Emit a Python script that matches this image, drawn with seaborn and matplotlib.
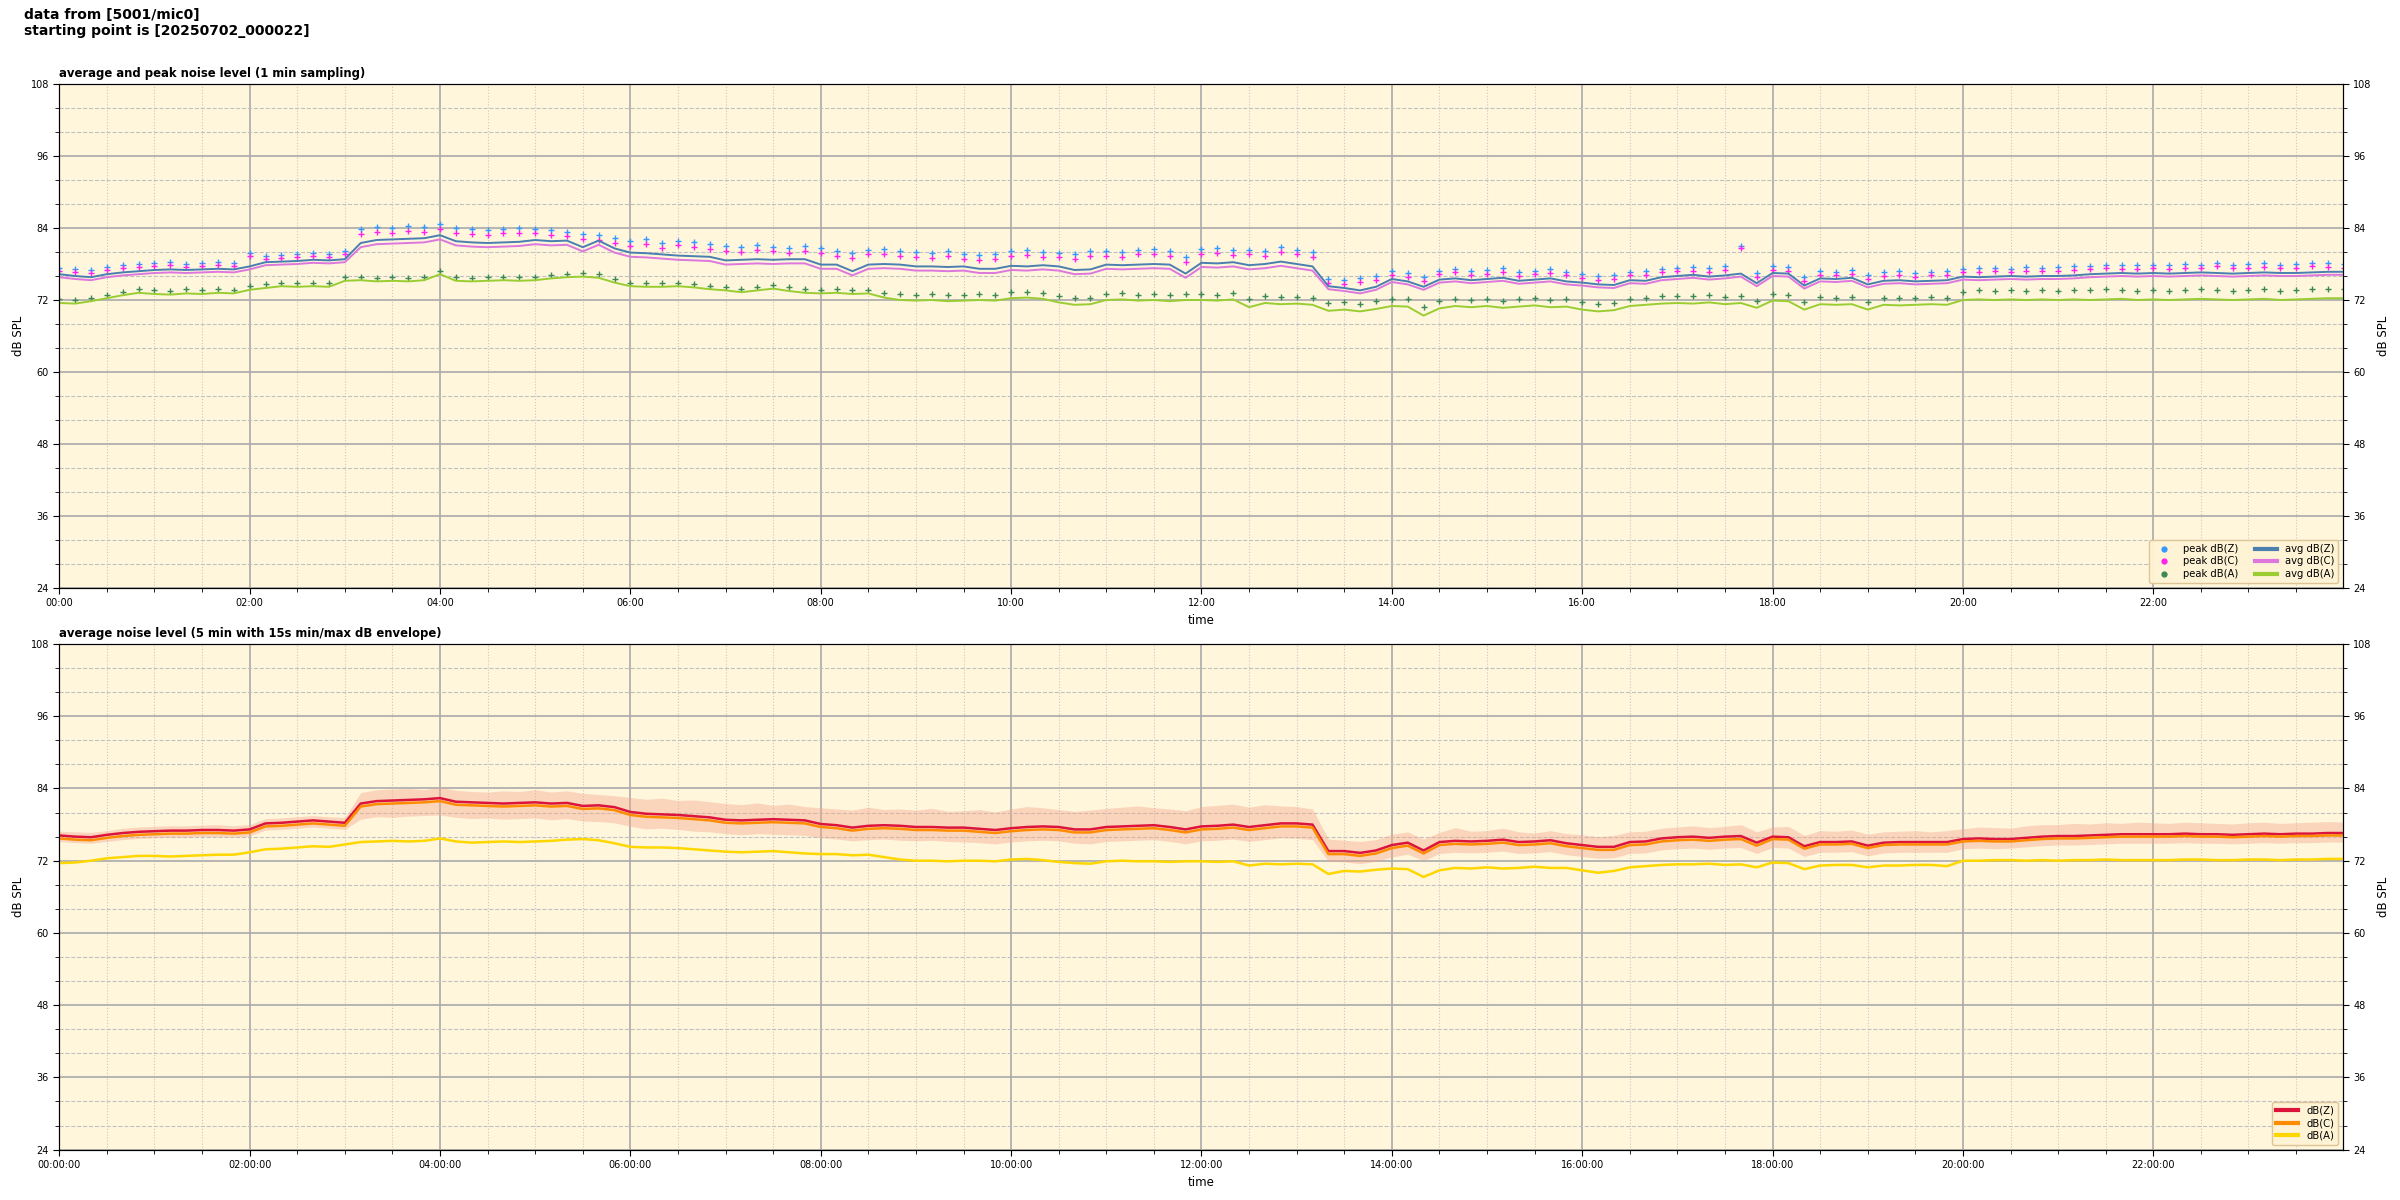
import pandas as pd
import matplotlib.pyplot as plt
import matplotlib.dates as mdates
from matplotlib.lines import Line2D
import seaborn as sns

# ----------------------------
# DATA (10 min steps)
# ----------------------------
start = "2025-07-02 00:00:00"
step_min = 10

# top panel: 1 min averages / peaks
avg_z = [76.3, 76.0, 75.8, 76.3, 76.6, 76.8,
         77.0, 77.1, 77.0, 77.1, 77.2, 77.1,
         77.6, 78.3, 78.4, 78.5, 78.7, 78.6,
         78.8, 81.5, 82.0, 82.1, 82.2, 82.3,
         82.8, 81.8, 81.6, 81.5, 81.6, 81.7,
         82.0, 81.8, 81.9, 80.8, 81.9, 80.6,
         79.9, 79.8, 79.6, 79.4, 79.3, 79.2,
         78.6, 78.7, 78.8, 78.7, 78.8, 78.8,
         77.9, 77.9, 76.8, 77.9, 78.0, 77.9,
         77.6, 77.6, 77.5, 77.6, 77.2, 77.2,
         77.7, 77.6, 77.8, 77.6, 77.0, 77.1,
         77.9, 77.8, 77.9, 78.0, 77.9, 76.4,
         78.2, 78.1, 78.3, 77.8, 78.0, 78.4,
         78.0, 77.6, 74.3, 74.0, 73.6, 74.2,
         75.5, 75.1, 74.2, 75.4, 75.6, 75.3,
         75.5, 75.7, 75.2, 75.4, 75.6, 75.1,
         74.9, 74.6, 74.5, 75.3, 75.2, 75.8,
         76.0, 76.2, 75.9, 76.1, 76.4, 74.8,
         76.5, 76.4, 74.4, 75.6, 75.5, 75.7,
         74.6, 75.2, 75.3, 75.1, 75.2, 75.3,
         75.9, 75.8, 75.9, 76.0, 75.9, 76.0,
         76.0, 76.1, 76.3, 76.4, 76.5, 76.4,
         76.5, 76.4, 76.5, 76.6, 76.5, 76.4,
         76.5, 76.6, 76.5, 76.5, 76.6, 76.7,
         76.7]

avg_c = [75.8, 75.5, 75.3, 75.8, 76.1, 76.3,
         76.5, 76.6, 76.5, 76.6, 76.7, 76.6,
         77.1, 77.8, 77.9, 78.0, 78.2, 78.1,
         78.3, 80.8, 81.3, 81.4, 81.5, 81.6,
         82.1, 81.1, 80.9, 80.8, 80.9, 81.0,
         81.3, 81.1, 81.2, 80.1, 81.2, 79.9,
         79.2, 79.1, 78.9, 78.7, 78.6, 78.5,
         77.9, 78.0, 78.1, 78.0, 78.1, 78.1,
         77.2, 77.2, 76.1, 77.2, 77.3, 77.2,
         76.9, 76.9, 76.8, 76.9, 76.5, 76.5,
         77.0, 76.9, 77.1, 76.9, 76.3, 76.4,
         77.2, 77.1, 77.2, 77.3, 77.2, 75.7,
         77.5, 77.4, 77.6, 77.1, 77.3, 77.7,
         77.3, 76.9, 73.8, 73.5, 73.1, 73.7,
         75.0, 74.6, 73.7, 74.9, 75.1, 74.8,
         75.0, 75.2, 74.7, 74.9, 75.1, 74.6,
         74.4, 74.1, 74.0, 74.8, 74.7, 75.3,
         75.5, 75.7, 75.4, 75.6, 75.9, 74.3,
         76.0, 75.9, 73.9, 75.1, 75.0, 75.2,
         74.1, 74.7, 74.8, 74.6, 74.7, 74.8,
         75.4, 75.3, 75.4, 75.5, 75.4, 75.5,
         75.5, 75.6, 75.8, 75.9, 76.0, 75.9,
         76.0, 75.9, 76.0, 76.1, 76.0, 75.9,
         76.0, 76.1, 76.0, 76.0, 76.1, 76.2,
         76.2]

avg_a = [71.5, 71.4, 71.8, 72.3, 72.8, 73.2,
         73.0, 72.9, 73.1, 73.0, 73.2, 73.1,
         73.7, 74.0, 74.3, 74.2, 74.3, 74.2,
         75.2, 75.3, 75.1, 75.2, 75.1, 75.3,
         76.3, 75.2, 75.1, 75.2, 75.3, 75.2,
         75.3, 75.6, 75.8, 75.9, 75.7, 74.9,
         74.3, 74.2, 74.2, 74.3, 74.1, 73.8,
         73.6, 73.3, 73.6, 73.9, 73.5, 73.2,
         73.1, 73.2, 73.0, 73.1, 72.4, 72.0,
         71.9, 72.0, 71.8, 71.9, 72.0, 71.9,
         72.3, 72.4, 72.2, 71.6, 71.2, 71.3,
         72.0, 72.1, 71.9, 72.0, 71.8, 72.0,
         72.0, 71.9, 72.1, 70.8, 71.5, 71.3,
         71.4, 71.2, 70.2, 70.4, 70.1, 70.5,
         71.0, 70.9, 69.4, 70.6, 71.0, 70.8,
         71.0, 70.7, 70.9, 71.1, 70.8, 70.9,
         70.4, 70.1, 70.3, 71.0, 71.2, 71.4,
         71.5, 71.4, 71.6, 71.3, 71.5, 70.7,
         71.9, 71.8, 70.4, 71.3, 71.2, 71.3,
         70.4, 71.2, 71.1, 71.2, 71.3, 71.2,
         72.0, 72.1, 72.0, 72.1, 72.0, 72.1,
         72.0, 72.1, 72.0, 72.1, 72.2, 72.0,
         72.1, 72.0, 72.1, 72.2, 72.1, 72.0,
         72.1, 72.2, 72.0, 72.1, 72.2, 72.3,
         72.3]

peak_z = [77.4, 77.2, 77.0, 77.5, 77.8, 78.0,
          78.1, 78.3, 78.0, 78.2, 78.4, 78.2,
          79.9, 79.3, 79.5, 79.7, 79.8, 79.6,
          80.1, 83.8, 84.1, 84.0, 84.3, 84.2,
          84.6, 84.0, 83.8, 83.6, 83.9, 84.0,
          83.9, 83.7, 83.4, 83.0, 82.8, 82.3,
          81.8, 82.2, 81.5, 81.9, 81.6, 81.3,
          81.0, 80.8, 81.2, 80.9, 80.7, 81.0,
          80.6, 80.2, 79.8, 80.4, 80.5, 80.1,
          80.0, 79.8, 80.1, 79.7, 79.5, 79.6,
          80.1, 80.3, 80.0, 79.9, 79.6, 80.2,
          80.2, 80.0, 80.4, 80.5, 80.1, 79.2,
          80.5, 80.7, 80.3, 80.4, 80.2, 80.8,
          80.4, 80.0, 75.5, 75.3, 75.6, 76.0,
          76.8, 76.5, 75.8, 76.9, 77.2, 76.8,
          77.0, 77.3, 76.6, 76.9, 77.1, 76.7,
          76.3, 76.0, 76.1, 76.7, 76.8, 77.2,
          77.4, 77.5, 77.3, 77.6, 81.0, 76.5,
          77.6, 77.5, 75.8, 76.8, 76.7, 77.0,
          76.1, 76.6, 76.8, 76.5, 76.7, 76.8,
          77.2, 77.3, 77.4, 77.2, 77.5, 77.4,
          77.5, 77.6, 77.7, 77.9, 77.8, 77.8,
          77.9, 77.8, 78.0, 77.9, 78.2, 77.9,
          78.0, 78.1, 77.9, 78.0, 78.2, 78.1,
          78.0]

peak_c = [76.9, 76.7, 76.5, 77.0, 77.3, 77.5,
          77.6, 77.8, 77.5, 77.7, 77.9, 77.7,
          79.4, 78.8, 79.0, 79.2, 79.3, 79.1,
          79.6, 83.0, 83.3, 83.2, 83.5, 83.4,
          83.8, 83.2, 83.0, 82.8, 83.1, 83.2,
          83.1, 82.9, 82.6, 82.2, 82.0, 81.5,
          81.0, 81.4, 80.7, 81.1, 80.8, 80.5,
          80.2, 80.0, 80.4, 80.1, 79.9, 80.2,
          79.8, 79.4, 79.0, 79.6, 79.7, 79.3,
          79.2, 79.0, 79.3, 78.9, 78.7, 78.8,
          79.3, 79.5, 79.2, 79.1, 78.8, 79.4,
          79.4, 79.2, 79.6, 79.7, 79.3, 78.4,
          79.7, 79.9, 79.5, 79.6, 79.4, 80.0,
          79.6, 79.2, 74.9, 74.7, 75.0, 75.4,
          76.2, 75.9, 75.2, 76.3, 76.6, 76.2,
          76.4, 76.7, 76.0, 76.3, 76.5, 76.1,
          75.7, 75.4, 75.5, 76.1, 76.2, 76.6,
          76.8, 76.9, 76.7, 77.0, 80.6, 75.9,
          77.0, 76.9, 75.2, 76.2, 76.1, 76.4,
          75.5, 76.0, 76.2, 75.9, 76.1, 76.2,
          76.6, 76.7, 76.8, 76.6, 76.9, 76.8,
          76.9, 77.0, 77.1, 77.3, 77.2, 77.2,
          77.3, 77.2, 77.4, 77.3, 77.6, 77.3,
          77.4, 77.5, 77.3, 77.4, 77.6, 77.5,
          77.4]

peak_a = [72.2, 72.0, 72.4, 72.9, 73.4, 73.8,
          73.6, 73.5, 73.8, 73.6, 73.9, 73.7,
          74.3, 74.6, 74.9, 74.8, 74.9, 74.8,
          75.8, 75.9, 75.7, 75.8, 75.7, 75.9,
          76.9, 75.8, 75.7, 75.8, 75.9, 75.8,
          75.9, 76.2, 76.4, 76.5, 76.3, 75.5,
          74.9, 74.8, 74.8, 74.9, 74.7, 74.4,
          74.2, 73.9, 74.2, 74.5, 74.1, 73.8,
          73.7, 73.8, 73.6, 73.7, 73.2, 73.0,
          72.9, 73.0, 72.8, 72.9, 73.0, 72.9,
          73.3, 73.4, 73.2, 72.6, 72.3, 72.4,
          73.0, 73.1, 72.9, 73.0, 72.8, 73.0,
          73.0, 72.9, 73.1, 72.2, 72.7, 72.5,
          72.5, 72.3, 71.5, 71.7, 71.4, 71.8,
          72.2, 72.1, 70.8, 71.8, 72.2, 72.0,
          72.2, 71.9, 72.1, 72.3, 72.0, 72.1,
          71.6, 71.3, 71.5, 72.2, 72.4, 72.6,
          72.7, 72.6, 72.8, 72.5, 72.7, 71.9,
          73.0, 72.9, 71.6, 72.5, 72.4, 72.5,
          71.6, 72.4, 72.3, 72.4, 72.5, 72.4,
          73.4, 73.6, 73.5, 73.7, 73.5, 73.6,
          73.5, 73.7, 73.6, 73.8, 73.7, 73.5,
          73.6, 73.5, 73.7, 73.8, 73.6, 73.5,
          73.6, 73.8, 73.5, 73.6, 73.8, 73.9,
          73.8]

# bottom panel: 5 min levels and 15 s min/max envelope
lvl_z = [76.2, 76.0, 75.9, 76.3, 76.6, 76.8,
         76.9, 77.0, 77.0, 77.1, 77.1, 77.0,
         77.2, 78.2, 78.3, 78.5, 78.7, 78.5,
         78.3, 81.5, 81.9, 82.0, 82.1, 82.2,
         82.4, 81.8, 81.7, 81.6, 81.5, 81.6,
         81.7, 81.5, 81.6, 81.1, 81.2, 80.9,
         80.1, 79.8, 79.7, 79.6, 79.4, 79.2,
         78.8, 78.7, 78.8, 78.9, 78.8, 78.7,
         78.1, 77.9, 77.5, 77.8, 77.9, 77.8,
         77.6, 77.6, 77.5, 77.5, 77.3, 77.1,
         77.4, 77.6, 77.7, 77.6, 77.2, 77.2,
         77.6, 77.7, 77.8, 77.9, 77.6, 77.2,
         77.7, 77.8, 78.0, 77.6, 77.9, 78.2,
         78.2, 78.0, 73.6, 73.6, 73.3, 73.7,
         74.6, 75.0, 73.7, 75.1, 75.3, 75.2,
         75.3, 75.5, 75.1, 75.2, 75.4, 74.9,
         74.6, 74.3, 74.3, 75.1, 75.2, 75.7,
         75.9, 76.0, 75.8, 76.0, 76.1, 75.0,
         76.0, 75.9, 74.4, 75.1, 75.1, 75.2,
         74.5, 75.0, 75.1, 75.1, 75.1, 75.1,
         75.6, 75.7, 75.6, 75.6, 75.8, 76.0,
         76.1, 76.1, 76.2, 76.3, 76.4, 76.4,
         76.4, 76.4, 76.5, 76.4, 76.4, 76.3,
         76.4, 76.5, 76.4, 76.5, 76.5, 76.6,
         76.6]

lvl_c = [75.7, 75.5, 75.4, 75.8, 76.1, 76.3,
         76.4, 76.5, 76.5, 76.6, 76.6, 76.5,
         76.7, 77.7, 77.8, 78.0, 78.2, 78.0,
         77.8, 81.0, 81.4, 81.5, 81.6, 81.7,
         81.9, 81.3, 81.2, 81.1, 81.0, 81.1,
         81.2, 81.0, 81.1, 80.6, 80.7, 80.4,
         79.6, 79.3, 79.2, 79.1, 78.9, 78.7,
         78.3, 78.2, 78.3, 78.4, 78.3, 78.2,
         77.6, 77.4, 77.0, 77.3, 77.4, 77.3,
         77.1, 77.1, 77.0, 77.0, 76.8, 76.6,
         76.9, 77.1, 77.2, 77.1, 76.7, 76.7,
         77.1, 77.2, 77.3, 77.4, 77.1, 76.7,
         77.2, 77.3, 77.5, 77.1, 77.4, 77.7,
         77.7, 77.5, 73.1, 73.1, 72.8, 73.2,
         74.1, 74.5, 73.2, 74.6, 74.8, 74.7,
         74.8, 75.0, 74.6, 74.7, 74.9, 74.4,
         74.1, 73.8, 73.8, 74.6, 74.7, 75.2,
         75.4, 75.5, 75.3, 75.5, 75.6, 74.5,
         75.6, 75.5, 74.0, 74.7, 74.7, 74.8,
         74.1, 74.6, 74.7, 74.7, 74.7, 74.7,
         75.2, 75.3, 75.2, 75.2, 75.4, 75.6,
         75.7, 75.7, 75.8, 75.9, 76.0, 76.0,
         76.0, 76.0, 76.1, 76.0, 76.0, 75.9,
         76.0, 76.1, 76.0, 76.1, 76.1, 76.2,
         76.2]

lvl_a = [71.6, 71.7, 72.0, 72.4, 72.6, 72.8,
         72.8, 72.7, 72.8, 72.9, 73.0, 73.0,
         73.4, 73.9, 74.0, 74.2, 74.4, 74.3,
         74.7, 75.1, 75.2, 75.3, 75.2, 75.3,
         75.7, 75.2, 75.0, 75.1, 75.2, 75.1,
         75.2, 75.3, 75.5, 75.6, 75.4, 74.9,
         74.3, 74.2, 74.2, 74.1, 73.9, 73.7,
         73.5, 73.4, 73.5, 73.6, 73.4, 73.2,
         73.1, 73.1, 72.9, 73.0, 72.6, 72.2,
         72.0, 72.0, 71.9, 72.0, 72.0, 71.9,
         72.2, 72.3, 72.1, 71.8, 71.6, 71.5,
         71.9, 72.0, 71.9, 71.9, 71.8, 71.9,
         71.9, 71.8, 71.9, 71.2, 71.5, 71.4,
         71.5, 71.4, 69.8, 70.3, 70.2, 70.5,
         70.7, 70.6, 69.3, 70.4, 70.8, 70.7,
         70.9, 70.7, 70.8, 71.0, 70.8, 70.8,
         70.4, 70.0, 70.3, 70.9, 71.1, 71.3,
         71.4, 71.4, 71.5, 71.3, 71.4, 70.9,
         71.7, 71.6, 70.6, 71.2, 71.3, 71.3,
         70.9, 71.2, 71.2, 71.3, 71.3, 71.1,
         72.0, 72.0, 72.1, 72.1, 72.0, 72.1,
         72.0, 72.1, 72.1, 72.2, 72.1, 72.1,
         72.1, 72.1, 72.2, 72.2, 72.1, 72.1,
         72.2, 72.2, 72.1, 72.2, 72.2, 72.3,
         72.3]

env_hi = [76.9, 76.8, 76.7, 77.0, 77.4, 77.6,
          77.7, 77.8, 77.8, 77.9, 78.0, 77.8,
          78.0, 79.0, 79.1, 79.3, 79.5, 79.3,
          79.2, 83.3, 83.8, 83.9, 84.0, 83.8,
          84.2, 83.7, 83.5, 83.4, 83.6, 83.5,
          83.8, 83.4, 83.6, 83.2, 83.0, 82.8,
          82.5, 82.2, 82.4, 82.0, 82.1, 81.8,
          81.5, 81.3, 81.6, 81.2, 81.4, 81.0,
          80.8, 80.6, 80.4, 80.9, 80.5, 80.6,
          80.4, 80.7, 80.2, 80.3, 80.5, 80.1,
          80.6, 81.0, 80.8, 80.5, 80.2, 80.4,
          80.7, 80.9, 81.1, 80.8, 80.6, 80.3,
          81.0, 81.2, 81.4, 80.9, 81.3, 81.1,
          81.0, 80.6, 75.6, 75.4, 75.2, 75.5,
          76.4, 76.8, 75.6, 76.7, 77.5, 76.9,
          77.0, 77.4, 76.8, 76.6, 77.0, 76.5,
          76.3, 76.0, 76.2, 76.8, 76.9, 77.4,
          77.6, 77.8, 77.5, 77.7, 78.0, 76.8,
          77.6, 77.7, 76.2, 77.0, 76.9, 77.1,
          76.4, 76.8, 76.9, 77.0, 76.8, 77.0,
          77.3, 77.6, 77.5, 77.4, 77.8, 78.0,
          78.0, 78.2, 78.1, 78.3, 78.2, 78.4,
          78.3, 78.2, 78.4, 78.3, 78.2, 78.1,
          78.3, 78.4, 78.2, 78.3, 78.4, 78.5,
          78.4]

env_lo = [75.2, 75.0, 74.9, 75.2, 75.5, 75.7,
          75.8, 75.9, 75.9, 76.0, 76.0, 75.9,
          76.1, 77.1, 77.2, 77.4, 77.6, 77.4,
          77.2, 78.9, 79.3, 79.2, 79.4, 79.5,
          79.6, 79.2, 79.0, 79.1, 78.9, 79.0,
          79.1, 78.8, 79.0, 78.6, 78.5, 78.3,
          77.7, 77.3, 77.4, 77.2, 76.9, 76.8,
          76.5, 76.3, 76.5, 76.4, 76.3, 76.2,
          75.8, 75.6, 75.3, 75.5, 75.6, 75.4,
          75.3, 75.4, 75.2, 75.1, 75.0, 74.8,
          75.1, 75.3, 75.4, 75.3, 74.9, 74.8,
          75.2, 75.3, 75.4, 75.5, 75.2, 74.8,
          75.3, 75.4, 75.6, 75.2, 75.5, 75.8,
          75.7, 75.5, 71.9, 71.8, 71.5, 71.9,
          72.6, 73.1, 72.0, 73.2, 73.4, 73.3,
          73.4, 73.6, 73.2, 73.3, 73.5, 73.0,
          72.7, 72.4, 72.5, 73.2, 73.3, 73.8,
          74.0, 74.1, 73.9, 74.1, 74.2, 73.2,
          74.2, 74.1, 72.7, 73.4, 73.4, 73.5,
          72.8, 73.3, 73.4, 73.4, 73.4, 73.4,
          74.0, 74.1, 74.0, 74.1, 74.3, 74.5,
          74.6, 74.6, 74.7, 74.8, 74.9, 74.9,
          74.9, 74.9, 75.0, 74.9, 74.9, 74.8,
          74.9, 75.0, 74.9, 75.0, 75.0, 75.1,
          75.1]

y_min, y_max = 24, 108

# ----------------------------
# DATAFRAME
# ----------------------------
times = pd.date_range(start, periods=len(avg_z), freq=f"{step_min}min")
df = pd.DataFrame({
    "time": times,
    "avg_z": avg_z, "avg_c": avg_c, "avg_a": avg_a,
    "peak_z": peak_z, "peak_c": peak_c, "peak_a": peak_a,
    "lvl_z": lvl_z, "lvl_c": lvl_c, "lvl_a": lvl_a,
    "env_lo": env_lo, "env_hi": env_hi,
})

BG = "#fff6dc"
x_lo = pd.Timestamp(start)
x_hi = x_lo + pd.Timedelta(hours=23, minutes=59, seconds=30)

fig = plt.figure(figsize=(24, 12), dpi=100)
fig.text(0.01, 0.993, "data from [5001/mic0]\nstarting point is [20250702_000022]",
         ha="left", va="top", fontsize=10, fontweight="bold", linespacing=1.1)

ax1 = fig.add_axes([0.0247, 0.51, 0.9515, 0.42])
ax2 = fig.add_axes([0.0247, 0.042, 0.9515, 0.4213])


def style_axes(ax, title, fmt):
    ax.set_facecolor(BG)
    ax.set_xlim(x_lo, x_hi)
    ax.set_ylim(y_min, y_max)
    ax.set_yticks(range(y_min, y_max + 1, 12))
    ax.set_yticks(range(y_min, y_max + 1, 4), minor=True)
    ax.xaxis.set_major_locator(mdates.HourLocator(byhour=range(0, 24, 2)))
    ax.xaxis.set_minor_locator(mdates.MinuteLocator(byminute=[0, 30]))
    ax.xaxis.set_major_formatter(mdates.DateFormatter(fmt))
    ax.xaxis.grid(True, which="major", color="#aaaaaa", lw=1.2)
    ax.yaxis.grid(True, which="major", color="#aaaaaa", lw=1.2)
    ax.xaxis.grid(True, which="minor", color="#c8c8c8", lw=0.8, ls=":")
    ax.yaxis.grid(True, which="minor", color="#c0c0c0", lw=0.8, ls="--")
    ax.set_axisbelow(True)
    ax.tick_params(which="both", direction="out", labelsize=7, right=True)
    ax.tick_params(which="major", length=4)
    ax.tick_params(which="minor", length=3)
    ax.set_title(title, loc="left", fontsize=8.4, fontweight="bold", pad=5)
    # right hand axis copy
    rx = ax.twinx()
    rx.set_ylim(y_min, y_max)
    rx.set_yticks(range(y_min, y_max + 1, 12))
    rx.set_yticks(range(y_min, y_max + 1, 4), minor=True)
    rx.tick_params(which="both", direction="out", labelsize=7)
    rx.tick_params(which="major", length=4)
    rx.tick_params(which="minor", length=3)
    rx.set_ylabel("dB SPL", fontsize=8.5)


legend_style = dict(loc="lower right", fontsize=7.2, frameon=True,
                    facecolor="#fff3d6", edgecolor="#dcc394", framealpha=0.95,
                    handlelength=2.2, labelspacing=0.25, borderpad=0.4)

# ----------------------------
# TOP: average and peak
# ----------------------------
style_axes(ax1, "average and peak noise level (1 min sampling)", "%H:%M")

sns.scatterplot(data=df, x="time", y="peak_z", marker="+", s=14, color="#3399ff",
                linewidth=1.0, ax=ax1, zorder=3)
sns.scatterplot(data=df, x="time", y="peak_c", marker="+", s=14, color="#ff22ee",
                linewidth=1.0, ax=ax1, zorder=3)
sns.scatterplot(data=df, x="time", y="peak_a", marker="+", s=14, color="#3a8a55",
                linewidth=1.0, ax=ax1, zorder=3)
sns.lineplot(data=df, x="time", y="avg_z", color="#4a7fb0", lw=1.4, ax=ax1, zorder=4)
sns.lineplot(data=df, x="time", y="avg_c", color="#dd77dd", lw=1.4, ax=ax1, zorder=4)
sns.lineplot(data=df, x="time", y="avg_a", color="#9acd32", lw=1.4, ax=ax1, zorder=4)
ax1.set_xlabel("time", fontsize=8.5)
ax1.set_ylabel("dB SPL", fontsize=8.5)

top_handles = [
    Line2D([], [], ls="", marker="o", ms=3.5, color="#3399ff", label="peak dB(Z)"),
    Line2D([], [], ls="", marker="o", ms=3.5, color="#ff22ee", label="peak dB(C)"),
    Line2D([], [], ls="", marker="o", ms=3.5, color="#3a8a55", label="peak dB(A)"),
    Line2D([], [], lw=3, color="#4a7fb0", label="avg dB(Z)"),
    Line2D([], [], lw=3, color="#dd77dd", label="avg dB(C)"),
    Line2D([], [], lw=3, color="#9acd32", label="avg dB(A)"),
]
leg = ax1.legend(handles=top_handles, ncol=2, columnspacing=1.6, **legend_style)
leg.set_zorder(10)

# ----------------------------
# BOTTOM: 5 min levels + envelope
# ----------------------------
style_axes(ax2, "average noise level (5 min with 15s min/max dB envelope)", "%H:%M:%S")

ax2.fill_between(df["time"], df["env_lo"], df["env_hi"], color="#f4a58a",
                 alpha=0.4, lw=0, zorder=2)
sns.lineplot(data=df, x="time", y="lvl_z", color="#dc143c", lw=1.8, ax=ax2, zorder=4)
sns.lineplot(data=df, x="time", y="lvl_c", color="#ff8c00", lw=1.8, ax=ax2, zorder=4)
sns.lineplot(data=df, x="time", y="lvl_a", color="#ffd700", lw=1.8, ax=ax2, zorder=4)
ax2.set_xlabel("time", fontsize=8.5)
ax2.set_ylabel("dB SPL", fontsize=8.5)

bot_handles = [
    Line2D([], [], lw=3, color="#dc143c", label="dB(Z)"),
    Line2D([], [], lw=3, color="#ff8c00", label="dB(C)"),
    Line2D([], [], lw=3, color="#ffd700", label="dB(A)"),
]
leg2 = ax2.legend(handles=bot_handles, **legend_style)
leg2.set_zorder(10)

plt.savefig("out.png", dpi=100)
